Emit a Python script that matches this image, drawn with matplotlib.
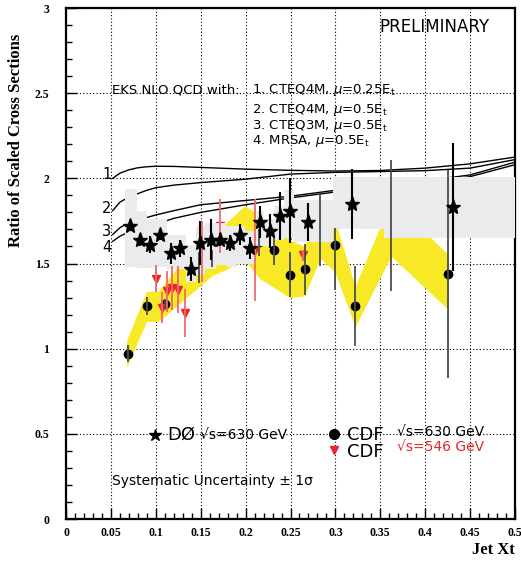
import numpy as np
import matplotlib
matplotlib.use('Agg')
import matplotlib.pyplot as plt
from matplotlib.ticker import MultipleLocator

# DØ stars (sqrt(s)=630 GeV)
d0_x = [0.071, 0.082, 0.093, 0.105, 0.117, 0.127, 0.139, 0.149, 0.161, 0.172,
        0.183, 0.194, 0.205, 0.216, 0.227, 0.238, 0.249, 0.270, 0.318, 0.4315]
d0_y = [1.72, 1.64, 1.61, 1.67, 1.56, 1.59, 1.47, 1.62, 1.64, 1.64,
        1.62, 1.67, 1.59, 1.745, 1.69, 1.78, 1.81, 1.743, 1.85, 1.83]
d0_err = [0.03, 0.035, 0.05, 0.03, 0.06, 0.05, 0.07, 0.13, 0.12, 0.04,
          0.045, 0.06, 0.065, 0.095, 0.10, 0.14, 0.19, 0.113, 0.206, 0.375]

# DØ systematic band (bins)
d0_edges = [0.0656, 0.0786, 0.0897, 0.099, 0.112, 0.122, 0.134, 0.145, 0.1545, 0.1667,
            0.178, 0.189, 0.199, 0.212, 0.221, 0.232, 0.243, 0.254, 0.297, 0.354, 0.5]
d0_sys_hi = [1.94, 1.81, 1.76, 1.76, 1.67, 1.67, 1.61, 1.72, 1.74, 1.74,
             1.72, 1.72, 1.69, 1.81, 1.76, 1.84, 1.93, 1.87, 2.01, 2.01]
d0_sys_lo = [1.48, 1.475, 1.475, 1.48, 1.465, 1.465, 1.39, 1.43, 1.47, 1.49,
             1.48, 1.50, 1.50, 1.60, 1.60, 1.64, 1.65, 1.625, 1.70, 1.65]

# CDF sqrt(s)=630 GeV
cdf_x = [0.0685, 0.090, 0.110, 0.148, 0.163, 0.215, 0.232, 0.249, 0.2656,
         0.283, 0.299, 0.322, 0.362, 0.4256]
cdf_y = [0.97, 1.25, 1.26, 1.475, 1.53, 1.625, 1.58, 1.435, 1.465,
         1.70, 1.606, 1.25, 1.725, 1.44]
cdf_lo = [0.05, 0.055, 0.03, 0.09, 0.05, 0.08, 0.09, 0.13, 0.15,
          0.215, 0.26, 0.235, 0.385, 0.61]
cdf_hi = [0.05, 0.055, 0.03, 0.09, 0.05, 0.08, 0.09, 0.13, 0.15,
          0.215, 0.10, 0.235, 0.385, 0.61]

# CDF systematic band
band_x = [0.0675, 0.0896, 0.1026, 0.110, 0.125, 0.134, 0.149, 0.163, 0.1785, 0.199,
          0.216, 0.232, 0.249, 0.2656, 0.283, 0.299, 0.322, 0.362, 0.4256]
band_hi = [1.05, 1.337, 1.337, 1.385, 1.484, 1.52, 1.60, 1.62, 1.74, 1.84,
           1.78, 1.70, 1.64, 1.60, 1.78, 1.76, 1.367, 1.87, 1.553]
band_lo = [0.89, 1.16, 1.16, 1.19, 1.26, 1.30, 1.367, 1.43, 1.465, 1.52,
           1.41, 1.357, 1.30, 1.31, 1.53, 1.455, 1.13, 1.543, 1.23]

# CDF sqrt(s)=546 GeV
c546_x = [0.1007, 0.107, 0.1126, 0.1185, 0.125, 0.132, 0.151, 0.172, 0.210, 0.264]
c546_y = [1.41, 1.24, 1.337, 1.357, 1.347, 1.21, 1.57, 1.72, 1.58, 1.547]
c546_err = [0.08, 0.09, 0.12, 0.13, 0.14, 0.14, 0.18, 0.16, 0.30, 0.03]

# EKS NLO QCD curves
th_x = [0.052, 0.06, 0.07, 0.08, 0.09, 0.10, 0.12, 0.15, 0.20, 0.25, 0.30, 0.35, 0.40, 0.45, 0.50]
th_1 = [2.00, 2.03, 2.05, 2.062, 2.068, 2.071, 2.070, 2.064, 2.054, 2.047, 2.043, 2.046, 2.060, 2.085, 2.125]
th_2 = [1.81, 1.86, 1.89, 1.91, 1.93, 1.945, 1.96, 1.975, 1.995, 2.025, 2.035, 2.04, 2.045, 2.06, 2.11]
th_3 = [1.67, 1.71, 1.74, 1.76, 1.77, 1.785, 1.81, 1.845, 1.87, 1.895, 1.93, 1.96, 1.985, 2.02, 2.095]
th_4 = [1.63, 1.66, 1.685, 1.71, 1.725, 1.73, 1.765, 1.80, 1.845, 1.885, 1.92, 1.95, 1.975, 2.01, 2.08]

xticks = [0, 0.05, 0.1, 0.15, 0.2, 0.25, 0.3, 0.35, 0.4, 0.45, 0.5]
xlabels = ['0', '0.05', '0.1', '0.15', '0.2', '0.25', '0.3', '0.35', '0.4', '0.45', '0.5']
yticks = [0, 0.5, 1, 1.5, 2, 2.5, 3]
ylabels = ['0', '0.5', '1', '1.5', '2', '2.5', '3']

W, H = 521, 565
fig = plt.figure(figsize=(W / 100, H / 100), dpi=100)
ax = fig.add_axes([66 / W, 1 - 519 / H, 449 / W, 511 / H])
ax.set_xlim(0, 0.5)
ax.set_ylim(0, 3)

ax.set_axisbelow(True)
ax.grid(True, which='major', color='k', linestyle=(0, (1, 2)), lw=0.8)

for th in (th_1, th_2, th_3, th_4):
    ax.plot(th_x, th, color='k', lw=1.0, zorder=1.2)

ax.fill_between(band_x, band_lo, band_hi, color='#f8e926', lw=0, zorder=1.5)
ax.stairs(d0_sys_hi, d0_edges, baseline=d0_sys_lo, fill=True, color='#ebebed', lw=0, zorder=3)

eb = ax.errorbar(cdf_x, cdf_y, yerr=[cdf_lo, cdf_hi], fmt='o', color='k', ms=6,
                 ecolor='#4d4d4d', elinewidth=1.3, capsize=0, zorder=2.5)
eb[2][0].set_zorder(3.5)
eb = ax.errorbar(c546_x, c546_y, yerr=c546_err, fmt='v', color='#e8262b', ms=6,
                 ecolor='#f06a6a', elinewidth=1.3, capsize=0, zorder=2.5)
eb[2][0].set_zorder(3.5)
ax.errorbar(d0_x, d0_y, yerr=d0_err, fmt='*', color='k', ms=11,
            elinewidth=1.5, capsize=0, zorder=4)

ax.set_xticks(xticks, xlabels)
ax.set_yticks(yticks, ylabels)
ax.xaxis.set_minor_locator(MultipleLocator(0.01))
ax.yaxis.set_minor_locator(MultipleLocator(0.1))
ax.tick_params(which='both', direction='in', top=False, right=False)
ax.tick_params(which='major', length=8, width=1)
ax.tick_params(which='minor', length=4, width=1)
ax.tick_params(axis='x', pad=6)
ax.tick_params(axis='y', pad=12)
for lab in ax.get_xticklabels() + ax.get_yticklabels():
    lab.set_fontfamily('Liberation Serif')
    lab.set_fontweight('bold')
    lab.set_fontsize(8.5)
for s in ax.spines.values():
    s.set_linewidth(1.6)

sans = 'DejaVu Sans'
ax.text(0.41, 2.888, 'PRELIMINARY', ha='center', va='center', fontsize=12, family=sans)
ax.text(0.051, 2.52, 'EKS NLO QCD with:', ha='left', va='center', fontsize=9.5, family=sans)
lines = [r'1. CTEQ4M, $\mu$=0.25E$_\mathrm{t}$', r'2. CTEQ4M, $\mu$=0.5E$_\mathrm{t}$',
         r'3. CTEQ3M, $\mu$=0.5E$_\mathrm{t}$', r'4. MRSA, $\mu$=0.5E$_\mathrm{t}$']
for ln, yy in zip(lines, [2.52, 2.40, 2.306, 2.218]):
    ax.text(0.2067, yy, ln, ha='left', va='center', fontsize=9.5, family=sans)
for lab, yy in zip(['1', '2', '3', '4'], [2.024, 1.824, 1.69, 1.594]):
    ax.text(0.0455, yy, lab, ha='center', va='center', fontsize=10.5, family=sans)

ax.plot([0.0989], [0.494], marker='*', color='k', ms=9, ls='none')
ax.text(0.1133, 0.494, 'DØ', ha='left', va='center', fontsize=13, family=sans)
ax.text(0.149, 0.494, '√s=630 GeV', ha='left', va='center', fontsize=10, family=sans)
ax.plot([0.298], [0.5], marker='o', color='k', ms=7, ls='none')
ax.text(0.313, 0.494, 'CDF', ha='left', va='center', fontsize=13, family=sans)
ax.text(0.369, 0.512, '√s=630 GeV', ha='left', va='center', fontsize=10, family=sans)
ax.plot([0.298], [0.406], marker='v', color='#e8262b', ms=6, ls='none')
ax.text(0.313, 0.394, 'CDF', ha='left', va='center', fontsize=13, family=sans)
ax.text(0.369, 0.424, '√s=546 GeV', ha='left', va='center', fontsize=10, family=sans, color='#e8262b')
ax.text(0.051, 0.224, 'Systematic Uncertainty ± 1σ', ha='left', va='center', fontsize=10, family=sans)

fig.text(16 / W, 1 - 140 / H, 'Ratio of Scaled Cross Sections', rotation=90, ha='center', va='center',
         fontsize=12, fontweight='bold', family='Liberation Serif')
fig.text(515 / W, 1 - 550 / H, 'Jet Xt', ha='right', va='center',
         fontsize=12, fontweight='bold', family='Liberation Serif')

fig.savefig('out.png', dpi=100)
